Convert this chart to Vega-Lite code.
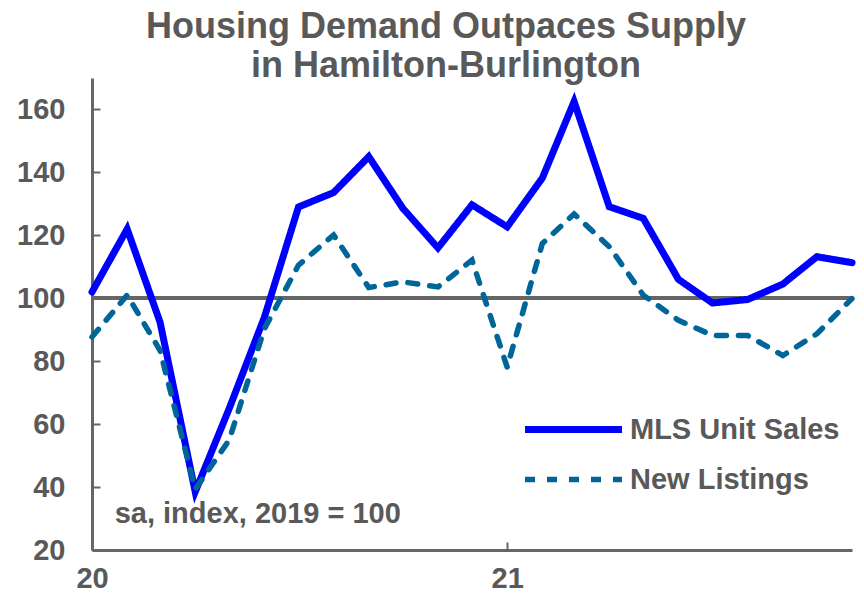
{
  "$schema": "https://vega.github.io/schema/vega-lite/v6.json",
  "autosize": {"type": "none"},
  "width": 760,
  "height": 472,
  "padding": {"left": 92, "top": 78, "right": 12, "bottom": 48},
  "background": "white",
  "config": {
    "view": {"stroke": null},
    "font": "Liberation Sans"
  },
  "title": {
    "text": ["Housing Demand Outpaces Supply", "in Hamilton-Burlington"],
    "fontSize": 36,
    "font": "Liberation Sans",
    "fontWeight": "bold",
    "color": "#595959",
    "lineHeight": 39,
    "anchor": "middle",
    "frame": "group",
    "dx": -26,
    "offset": -35,
    "baseline": "alphabetic"
  },
  "data": {
    "values": [
      {"date": "2020-01-01", "series": "MLS Unit Sales", "value": 102},
      {"date": "2020-02-01", "series": "MLS Unit Sales", "value": 122},
      {"date": "2020-03-01", "series": "MLS Unit Sales", "value": 92.4},
      {"date": "2020-04-01", "series": "MLS Unit Sales", "value": 38.5},
      {"date": "2020-05-01", "series": "MLS Unit Sales", "value": 65},
      {"date": "2020-06-01", "series": "MLS Unit Sales", "value": 94},
      {"date": "2020-07-01", "series": "MLS Unit Sales", "value": 129},
      {"date": "2020-08-01", "series": "MLS Unit Sales", "value": 133.6},
      {"date": "2020-09-01", "series": "MLS Unit Sales", "value": 145},
      {"date": "2020-10-01", "series": "MLS Unit Sales", "value": 128.6},
      {"date": "2020-11-01", "series": "MLS Unit Sales", "value": 116},
      {"date": "2020-12-01", "series": "MLS Unit Sales", "value": 129.7},
      {"date": "2021-01-01", "series": "MLS Unit Sales", "value": 122.7},
      {"date": "2021-02-01", "series": "MLS Unit Sales", "value": 138.2},
      {"date": "2021-03-01", "series": "MLS Unit Sales", "value": 162.5},
      {"date": "2021-04-01", "series": "MLS Unit Sales", "value": 129.1},
      {"date": "2021-05-01", "series": "MLS Unit Sales", "value": 125.4},
      {"date": "2021-06-01", "series": "MLS Unit Sales", "value": 106},
      {"date": "2021-07-01", "series": "MLS Unit Sales", "value": 98.5},
      {"date": "2021-08-01", "series": "MLS Unit Sales", "value": 99.6},
      {"date": "2021-09-01", "series": "MLS Unit Sales", "value": 104.5},
      {"date": "2021-10-01", "series": "MLS Unit Sales", "value": 113.2},
      {"date": "2021-11-01", "series": "MLS Unit Sales", "value": 111.3},
      {"date": "2020-01-01", "series": "New Listings", "value": 87.7},
      {"date": "2020-02-01", "series": "New Listings", "value": 101},
      {"date": "2020-03-01", "series": "New Listings", "value": 83.4},
      {"date": "2020-04-01", "series": "New Listings", "value": 39.3},
      {"date": "2020-05-01", "series": "New Listings", "value": 55},
      {"date": "2020-06-01", "series": "New Listings", "value": 90.3},
      {"date": "2020-07-01", "series": "New Listings", "value": 110.5},
      {"date": "2020-08-01", "series": "New Listings", "value": 120.1},
      {"date": "2020-09-01", "series": "New Listings", "value": 103.4},
      {"date": "2020-10-01", "series": "New Listings", "value": 105.2},
      {"date": "2020-11-01", "series": "New Listings", "value": 103.6},
      {"date": "2020-12-01", "series": "New Listings", "value": 112.1},
      {"date": "2021-01-01", "series": "New Listings", "value": 78.1},
      {"date": "2021-02-01", "series": "New Listings", "value": 117.4},
      {"date": "2021-03-01", "series": "New Listings", "value": 126.8},
      {"date": "2021-04-01", "series": "New Listings", "value": 116.4},
      {"date": "2021-05-01", "series": "New Listings", "value": 101},
      {"date": "2021-06-01", "series": "New Listings", "value": 93},
      {"date": "2021-07-01", "series": "New Listings", "value": 88.2},
      {"date": "2021-08-01", "series": "New Listings", "value": 88.2},
      {"date": "2021-09-01", "series": "New Listings", "value": 81.8},
      {"date": "2021-10-01", "series": "New Listings", "value": 88.7},
      {"date": "2021-11-01", "series": "New Listings", "value": 99.9}
    ]
  },
  "layer": [
    {
      "mark": {"type": "rule", "color": "#666666", "strokeWidth": 3},
      "encoding": {"y": {"datum": 100, "type": "quantitative"}}
    },
    {
      "mark": {"type": "line", "strokeCap": "round", "clip": false},
      "encoding": {
        "x": {
          "field": "date",
          "type": "temporal",
          "scale": {"type": "utc", "domain": [{"year": 2020, "month": 1, "date": 1, "utc": true}, {"year": 2021, "month": 11, "date": 1, "utc": true}], "nice": false},
          "axis": {
            "title": null,
            "values": [{"year": 2020, "month": 1, "date": 1, "utc": true}, {"year": 2021, "month": 1, "date": 1, "utc": true}],
            "labelExpr": "utcFormat(datum.value, '%y')",
            "grid": false,
            "domainColor": "#666666",
            "domainWidth": 3,
            "tickColor": "#666666",
            "tickWidth": 2,
            "tickSize": -8,
            "labelFontSize": 29,
            "labelFontWeight": "bold",
            "labelColor": "#595959",
            "labelFont": "Liberation Sans",
            "labelPadding": 22,
            "labelFlush": false,
            "labelOverlap": false
          }
        },
        "y": {
          "field": "value",
          "type": "quantitative",
          "scale": {"domain": [20, 170], "nice": false, "zero": false},
          "axis": {
            "title": null,
            "values": [20, 30, 40, 50, 60, 70, 80, 90, 100, 110, 120, 130, 140, 150, 160, 170],
            "labelExpr": "(datum.value % 20 == 0 && datum.value <= 160) ? datum.label : ''",
            "grid": false,
            "domainColor": "#666666",
            "domainWidth": 3,
            "tickColor": "#666666",
            "tickWidth": 2,
            "tickSize": -8,
            "labelFontSize": 29,
            "labelFontWeight": "bold",
            "labelColor": "#595959",
            "labelFont": "Liberation Sans",
            "labelPadding": 35,
            "labelOverlap": false,
            "labelFlush": false
          }
        },
        "color": {
          "field": "series",
          "type": "nominal",
          "scale": {"domain": ["MLS Unit Sales", "New Listings"], "range": ["#0000FF", "#006699"]},
          "legend": {
            "title": null,
            "orient": "none",
            "legendX": 467,
            "legendY": 337,
            "padding": 0,
            "symbolType": "M-4.85,0H4.85",
            "symbolSize": 400,
            "symbolStrokeWidth": 6,
            "labelFontSize": 29,
            "labelFontWeight": "bold",
            "labelColor": "#595959",
            "labelFont": "Liberation Sans",
            "labelOffset": 42,
            "rowPadding": 20,
            "labelLimit": 400
          }
        },
        "strokeDash": {
          "field": "series",
          "type": "nominal",
          "scale": {"domain": ["MLS Unit Sales", "New Listings"], "range": [[1, 0], [10, 12]]}
        },
        "strokeWidth": {
          "field": "series",
          "type": "nominal",
          "scale": {"domain": ["MLS Unit Sales", "New Listings"], "range": [7, 5.5]},
          "legend": null
        }
      }
    },
    {
      "data": {"values": [{}]},
      "mark": {"type": "text", "align": "left", "baseline": "alphabetic", "fontSize": 29, "fontWeight": "bold", "color": "#595959", "font": "Liberation Sans"},
      "encoding": {
        "x": {"datum": {"year": 2020, "month": 1, "date": 21, "utc": true}, "type": "temporal"},
        "y": {"datum": 28.6, "type": "quantitative"},
        "text": {"value": "sa, index, 2019 = 100"}
      }
    }
  ]
}
